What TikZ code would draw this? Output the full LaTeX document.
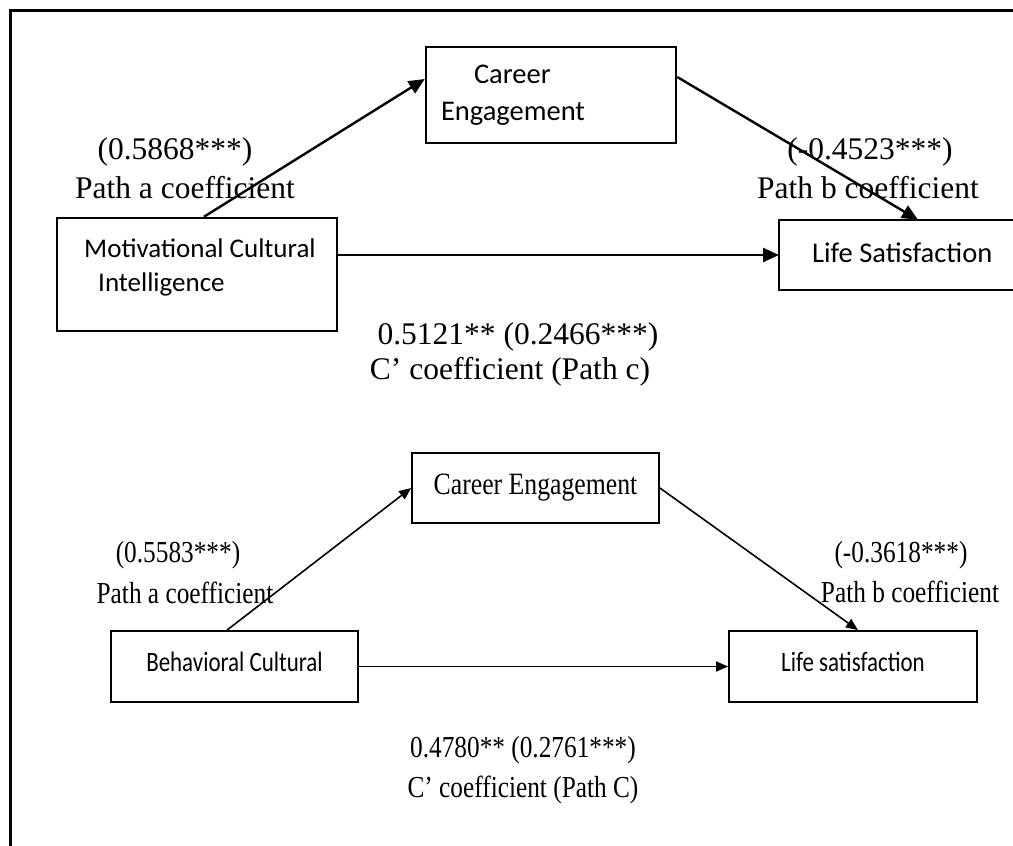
\documentclass[tikz,border=0pt]{standalone}
\usepackage{fontspec}
\setmainfont{Liberation Serif}
\newfontfamily\calfont{Carlito}
\newfontfamily\calcond[FakeStretch=0.82]{Carlito}
\newfontfamily\sercond[FakeStretch=0.83]{Liberation Serif}
\usetikzlibrary{arrows.meta,calc}
\tikzset{
  boxA/.style={draw, line width=2.5pt, rectangle, inner sep=0pt},
  boxB/.style={draw, line width=1.8pt, rectangle, inner sep=0pt},
  arrA/.style={line width=2.4pt, -{Triangle[length=16pt,width=14pt]}},
  arrB/.style={line width=1.6pt, -{Triangle[length=12pt,width=10pt]}},
  lblA/.style={inner sep=0pt, font=\fontsize{31.5}{36}\selectfont},
  lblB/.style={inner sep=0pt, font=\sercond\fontsize{30.5}{34}\selectfont},
}
\begin{document}
\begin{tikzpicture}[x=1pt,y=-1pt]
\useasboundingbox (0,0) rectangle (1013,846);
\fill[white] (0,0) rectangle (1013,846);
% outer frame (cut off at right and bottom)
\draw[line width=2.5pt] (10.5,846) -- (10.5,10.5) -- (1013,10.5);

% ---------- top diagram ----------
\node[boxA, minimum width=250, minimum height=96, text width=220, inner xsep=15pt, align=left,
      font=\calfont\fontsize{28.5}{37}\selectfont] (ce1) at (551,95)
      {\hspace*{33pt}Career\\Engagement};
\node[boxA, minimum width=280, minimum height=113] (mc1) at (197,274.5) {};
\node[inner sep=0pt, anchor=west, align=left, font=\calfont\fontsize{27}{34}\selectfont] (mc1t) at (84,267)
      {Motivational Cultural\\\hspace*{14pt}Intelligence};
\node[inner sep=0pt, anchor=west, minimum height=70, minimum width=234] (ls1) at (779,255) {};
\draw[line width=2.5pt] (1013,220) -- (779,220) -- (779,290) -- (1013,290);
\node[inner sep=0pt, anchor=base west, font=\calfont\fontsize{28.5}{34}\selectfont] (ls1t) at (812,262) {Life Satisfaction};

\draw[arrA] ([xshift=7pt]mc1.north) -- ([yshift=16pt]ce1.west);
\draw[arrA] ([yshift=18pt]ce1.east) -- ([xshift=139pt]ls1.north west);
\draw[arrA] (mc1.east |- ls1.west) -- (ls1.west);

\node[lblA] (a1v) at (175,152) {(0.5868***)};
\node[lblA] (a1t) at (185,188) {Path a coefficient};
\node[lblA] (b1v) at (870,152) {(-0.4523***)};
\node[lblA] (b1t) at (868,188) {Path b coefficient};
\node[lblA] (c1v) at (518,337) {0.5121** (0.2466***)};
\node[lblA] (c1t) at (510,372) {C’ coefficient (Path c)};

% ---------- bottom diagram ----------
\node[boxB, minimum width=247, minimum height=70, font=\sercond\fontsize{31}{34}\selectfont] (ce2) at (535.5,488) {Career Engagement};
\node[boxB, minimum width=247, minimum height=71, text height=21pt, text depth=12pt,
      font=\calcond\fontsize{28}{34}\selectfont] (bc2) at (234.5,666.5) {Behavioral Cultural};
\node[boxB, minimum width=248, minimum height=71, text height=21pt, text depth=12pt,
      font=\calcond\fontsize{28}{34}\selectfont] (ls2) at (853,666.5) {Life satisfaction};

\draw[arrB] ([xshift=-7.5pt]bc2.north) -- (ce2.west);
\draw[arrB] (ce2.east) -- ([xshift=5pt]ls2.north);
\draw[arrB] (bc2.east) -- (ls2.west);

\node[lblB] (a2v) at (178,555) {(0.5583***)};
\node[lblB] (a2t) at (185,593) {Path a coefficient};
\node[lblB] (b2v) at (901,555) {(-0.3618***)};
\node[lblB] (b2t) at (910,592) {Path b coefficient};
\node[lblB] (c2v) at (523,750) {0.4780** (0.2761***)};
\node[lblB] (c2t) at (523,790) {C’ coefficient (Path C)};
\end{tikzpicture}
\end{document}
